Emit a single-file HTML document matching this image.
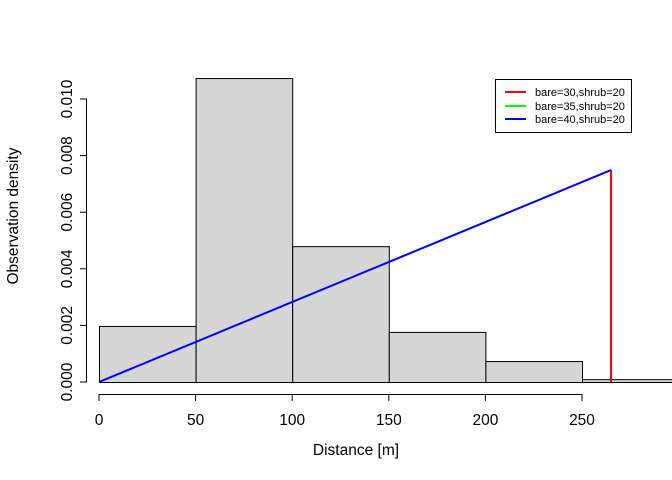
<!DOCTYPE html>
<html><head><meta charset="utf-8"><style>body{margin:0;background:#fff}svg{display:block;font-family:"Liberation Sans",sans-serif}</style></head>
<body>
<svg id="chart" width="672" height="480" viewBox="0 0 672 480">
<g id="bars"></g>
<g id="lines"></g>
<g id="axes"></g>
<text x="356" y="455" font-size="15.5" text-anchor="middle">Distance [m]</text>
<text transform="translate(18,216) rotate(-90)" font-size="15.5" text-anchor="middle">Observation density</text>
<g>
<rect x="495.5" y="79.5" width="136" height="53" fill="#fff" stroke="#000"/>
<line x1="505" x2="526" y1="92" y2="92" stroke="#f00" stroke-width="2"/>
<line x1="505" x2="526" y1="106" y2="106" stroke="#0f0" stroke-width="2"/>
<line x1="505" x2="526" y1="119" y2="119" stroke="#00f" stroke-width="2"/>
<text x="535" y="96" font-size="11">bare=30,shrub=20</text>
<text x="535" y="110" font-size="11">bare=35,shrub=20</text>
<text x="535" y="123" font-size="11">bare=40,shrub=20</text>
</g>
</svg>
<script>
const binEdges=[0,50,100,150,200,250,300];
const densities=[0.00198,0.01074,0.0048,0.00177,0.00074,0.0001];
const xTicks=[0,50,100,150,200,250];
const yTicks=[0,0.002,0.004,0.006,0.008,0.010];
const yTickLabels=["0.000","0.002","0.004","0.006","0.008","0.010"];
const lineX=[0,265];
const lineY=[0,0.00749];
const cutoff=265;
const X=v=>99+v*(582-99)/250;
const Y=v=>382-v*(382-99)/0.010;
const NS="http://www.w3.org/2000/svg";
function mk(p,t,a){const e=document.createElementNS(NS,t);for(const k in a)e.setAttribute(k,a[k]);p.appendChild(e);return e;}
const bars=document.getElementById('bars');
densities.forEach((d,i)=>{const x0=X(binEdges[i]),x1=X(binEdges[i+1]);
const r=mk(bars,'rect',{x:x0+0.5,y:Y(d)+0.5,width:x1-x0,height:Y(0)-Y(d),fill:'#d6d6d6',stroke:'#000','stroke-width':1});

});
const lines=document.getElementById('lines');
const red=mk(lines,'line',{x1:X(cutoff),x2:X(cutoff),y1:Y(0),y2:Y(lineY[1]),stroke:'#f00','stroke-width':2});


const blue=mk(lines,'line',{x1:X(lineX[0]),y1:Y(lineY[0]),x2:X(lineX[1]),y2:Y(lineY[1]),stroke:'#00f','stroke-width':2});


const ax=document.getElementById('axes');
mk(ax,'line',{x1:X(0),x2:X(250),y1:394.5,y2:394.5,stroke:'#000'});
xTicks.forEach(t=>{mk(ax,'line',{x1:X(t),x2:X(t),y1:394,y2:401,stroke:'#000'});
const tx=mk(ax,'text',{x:X(t),y:425,'font-size':15.5,'text-anchor':'middle'});tx.textContent=t;

});
mk(ax,'line',{x1:86.5,x2:86.5,y1:Y(0),y2:Y(0.010),stroke:'#000'});
yTicks.forEach((t,i)=>{mk(ax,'line',{x1:80,x2:87,y1:Y(t),y2:Y(t),stroke:'#000'});
const tx=mk(ax,'text',{transform:`translate(72,${Y(t)}) rotate(-90)`,'font-size':15.5,'text-anchor':'middle'});tx.textContent=yTickLabels[i];

});
</script>
</body></html>
